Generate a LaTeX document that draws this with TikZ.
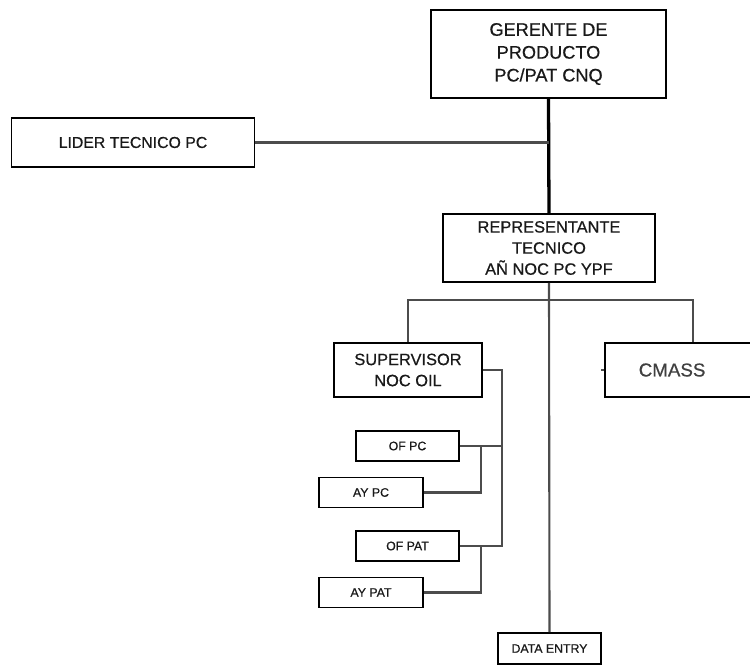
\documentclass[tikz,border=0pt]{standalone}
\usepackage{fontspec}
\setmainfont{Liberation Sans}[FakeBold=0.6]
\tikzset{
  cargo/.style={draw=black, line width=1.3pt, text=black!90, align=center,
    inner sep=0pt, font=\fontsize{14}{18}\selectfont},
  chico/.style={cargo, minimum width=3.09cm, minimum height=0.9cm,
    font=\fontsize{10.5}{12}\selectfont},
  linea/.style={draw=black!70, line width=1.8pt},
}
\begin{document}
\begin{tikzpicture}[x=0.03cm, y=-0.03cm]
\useasboundingbox (0,0) rectangle (750,666);
\node[cargo, minimum width=7.05cm, minimum height=2.64cm, font=\fontsize{15.5}{19.5}\selectfont]
  (gerente) at (548.5,54) {GERENTE DE\\PRODUCTO\\PC/PAT CNQ};
\node[cargo, minimum width=7.29cm, minimum height=1.47cm, font=\fontsize{13.5}{16}\selectfont]
  (lider) at (133,142.5) {LIDER TECNICO PC};
\node[cargo, minimum width=6.36cm, minimum height=2.04cm] (rep) at (549,248)
  {REPRESENTANTE\\TECNICO\\AÑ NOC PC YPF};
\node[cargo, minimum width=4.44cm, minimum height=1.62cm] (sup) at (408,370)
  {SUPERVISOR\\NOC OIL};
\node[cargo, anchor=west, minimum height=1.62cm, inner xsep=1.02cm, text width=3.24cm,
  align=left, text=black!75, font=\fontsize{16}{18}\selectfont] (cmass) at (604,370) {CMASS};
\node[chico] (ofpc) at (407.5,446) {OF PC};
\node[chico, minimum width=3.12cm] (aypc) at (371,492.5) {AY PC};
\node[chico] (ofpat) at (407.5,546) {OF PAT};
\node[chico, minimum width=3.12cm] (aypat) at (371,592.5) {AY PAT};
\node[chico, minimum height=0.93cm] (data) at (549.5,648.5) {DATA ENTRY};

\draw[line width=2.8pt] (gerente.south) -- (rep.north);
\draw[linea] (lider.east) -- (lider.east -| gerente.south);
\draw[linea]
     (rep.south)
  -- (rep.south |- 0,300) coordinate (bus)
  -- (bus -| cmass.north) coordinate (bus-r)
  -- (bus-r |- cmass.north);
\draw[linea]
     (bus)
  -- (bus -| sup.north)
  -- (sup.north);
\draw[linea] (rep.south) -- (data.north);
\draw[linea] (cmass.west) -- ++(-3,0);
\draw[linea]
     (sup.east)
  -- (502,370) coordinate (baja)
  -- (baja |- ofpat.east)
  -- (ofpat.east);
\draw[linea] (ofpc.east) -- (ofpc.east -| baja);
\draw[linea]
     (ofpc.east -| 481,0)
  -- (aypc.east -| 481,0)
  -- (aypc.east);
\draw[linea]
     (ofpat.east -| 481,0)
  -- (aypat.east -| 481,0)
  -- (aypat.east);
\end{tikzpicture}
\end{document}
